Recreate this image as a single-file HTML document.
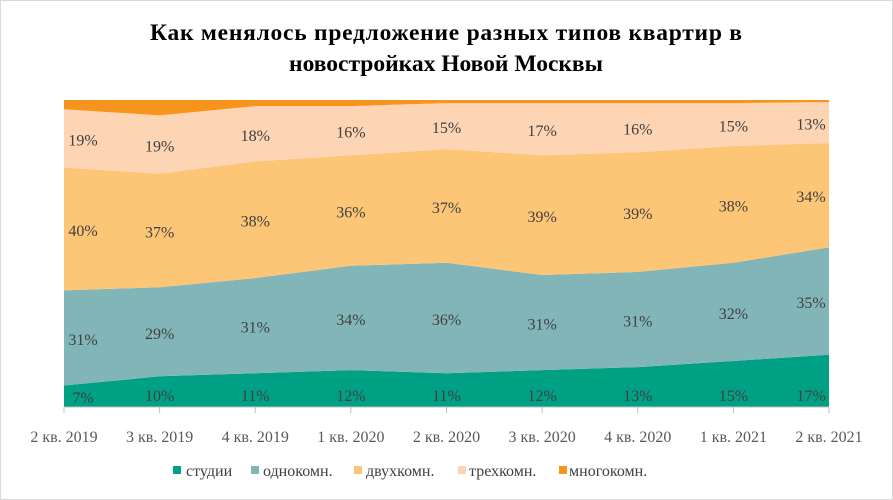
<!DOCTYPE html>
<html><head><meta charset="utf-8"><style>
html,body{margin:0;padding:0;background:#fff;}
svg{display:block;font-family:"Liberation Serif",serif;}
</style></head><body>
<svg id="c" width="893" height="500" viewBox="0 0 893 500" xmlns="http://www.w3.org/2000/svg">
<rect x="0.5" y="0.5" width="892" height="499" fill="#fff" stroke="#d9d9d9"/>
<text x="446" y="40" text-anchor="middle" font-size="23.5" font-weight="bold" fill="#000" textLength="592">Как менялось предложение разных типов квартир в</text>
<text x="446" y="71" text-anchor="middle" font-size="23.5" font-weight="bold" fill="#000">новостройках Новой Москвы</text>
<g id="areas"></g>
<g id="labels" font-size="16" fill="#404040" text-anchor="middle"></g>
<line x1="64" y1="407" x2="829" y2="407" stroke="#bfbfbf" stroke-width="1"/>
<g id="ticks" stroke="#bfbfbf"></g>
<g id="xl" font-size="16" fill="#595959" text-anchor="middle"></g>
<g font-size="16" fill="#404040">
<rect x="173" y="466" width="8" height="8" fill="#00a085"/><text x="186" y="476">студии</text>
<rect x="251" y="466" width="8" height="8" fill="#82b5b8"/><text x="263" y="476">однокомн.</text>
<rect x="354" y="466" width="8" height="8" fill="#fdc677"/><text x="366" y="476">двухкомн.</text>
<rect x="458" y="466" width="8" height="8" fill="#fdd5b5"/><text x="469" y="476">трехкомн.</text>
<rect x="559" y="466" width="8" height="8" fill="#f7941d"/><text x="569" y="476">многокомн.</text>
</g>
</svg>
<script>
var X=[],i;for(i=0;i<9;i++)X.push(64+i*95.625);
var Y=function(v){return 407-3.07*v;};
var s=[7,10,11,12,11,12,13,15,17],o=[38,39,42,46,47,43,44,47,52],d=[78,76,80,82,84,82,83,85,86],t=[97,95,98,98,99,99,99,99,99.3],m=[100,100,100,100,100,100,100,100,100];
var z=[0,0,0,0,0,0,0,0,0];
var layers=[[z,s,"#00a085"],[s,o,"#82b5b8"],[o,d,"#fdc677"],[d,t,"#fdd5b5"],[t,m,"#f7941d"]];
var ns="http://www.w3.org/2000/svg",A=document.getElementById("areas");
layers.forEach(function(L){var p=[];for(i=0;i<9;i++)p.push(X[i]+","+Y(L[1][i]));for(i=8;i>=0;i--)p.push(X[i]+","+Y(L[0][i]));
var e=document.createElementNS(ns,"polygon");e.setAttribute("points",p.join(" "));e.setAttribute("fill",L[2]);A.appendChild(e);});
var lab=[[7,10,11,12,11,12,13,15,17],[31,29,31,34,36,31,31,32,35],[40,37,38,36,37,39,39,38,34],[19,19,18,16,15,17,16,15,13]];
var lo=[z,s,o,d],hi=[s,o,d,t],G=document.getElementById("labels");
for(var k=0;k<4;k++)for(i=0;i<9;i++){var x=X[i];if(i==0)x+=19;if(i==8)x-=18;
var y=k==0?Y(0)-6:(Y(lo[k][i])+Y(hi[k][i]))/2+7;if(k==0&&i==0)y=403;
var e=document.createElementNS(ns,"text");e.setAttribute("x",x);e.setAttribute("y",y);e.textContent=lab[k][i]+"%";G.appendChild(e);}
var xl=["2 кв. 2019","3 кв. 2019","4 кв. 2019","1 кв. 2020","2 кв. 2020","3 кв. 2020","4 кв. 2020","1 кв. 2021","2 кв. 2021"];
var T=document.getElementById("ticks"),XL=document.getElementById("xl");
for(i=0;i<9;i++){var l=document.createElementNS(ns,"line");l.setAttribute("x1",X[i]);l.setAttribute("x2",X[i]);l.setAttribute("y1",407);l.setAttribute("y2",413);T.appendChild(l);
var e=document.createElementNS(ns,"text");e.setAttribute("x",X[i]);e.setAttribute("y",442);e.textContent=xl[i];XL.appendChild(e);}
</script>
</body></html>
